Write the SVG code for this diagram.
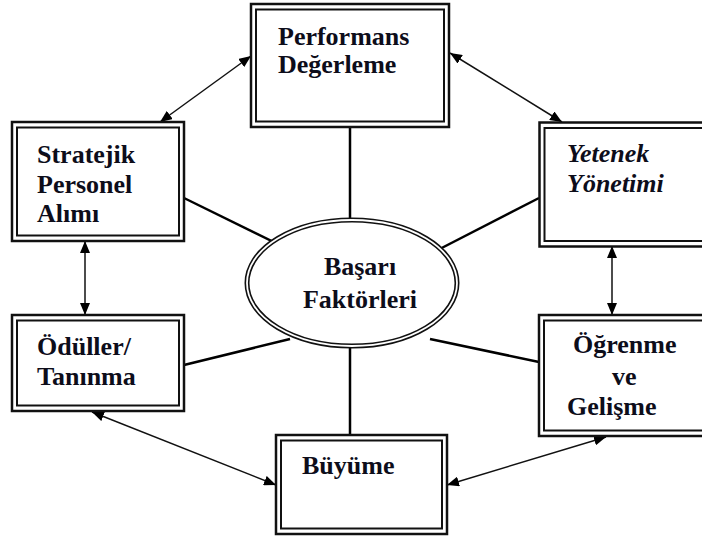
<svg xmlns="http://www.w3.org/2000/svg" width="702" height="539" viewBox="0 0 702 539">
<defs>
<marker id="ah" viewBox="0 0 12 10" refX="12" refY="5" markerWidth="12" markerHeight="10" markerUnits="userSpaceOnUse" orient="auto-start-reverse">
<path d="M0,0 L12,5 L0,10 z" fill="#000"/>
</marker>
</defs>
<style>
.outer{fill:#fff;stroke:#111;stroke-width:2.5}
.inner{fill:none;stroke:#111;stroke-width:2}
.t{font-family:"Liberation Serif","Times New Roman",serif;font-weight:bold;font-size:26px;fill:#0d0d1a}
.it{font-style:italic}
.conn{stroke:#000;stroke-width:2.5;fill:none}
.arr{stroke:#111;stroke-width:1.5;fill:none;marker-start:url(#ah);marker-end:url(#ah)}
</style>
<rect width="702" height="539" fill="#fff"/>
<g id="connectors">
<line class="conn" x1="184" y1="198" x2="290" y2="250"/>
<line class="conn" x1="539" y1="198" x2="430" y2="254"/>
<line class="conn" x1="184" y1="365" x2="290" y2="339"/>
<line class="conn" x1="539" y1="362" x2="430" y2="339"/>
<line class="conn" x1="350" y1="127" x2="350" y2="240"/>
<line class="conn" x1="350" y1="330" x2="350" y2="435"/>
<line class="arr" x1="160" y1="122" x2="251" y2="56"/>
<line class="arr" x1="450" y1="53" x2="562" y2="122"/>
<line class="arr" x1="85" y1="241" x2="85" y2="315"/>
<line class="arr" x1="612" y1="246" x2="612" y2="315"/>
<line class="arr" x1="92" y1="412" x2="276" y2="485"/>
<line class="arr" x1="447" y1="485" x2="606" y2="437"/>
</g>
<g id="center">
<ellipse cx="352" cy="283" rx="105" ry="63" fill="#fff" stroke="#111" stroke-width="5"/>
<ellipse cx="352" cy="283" rx="105" ry="63" fill="none" stroke="#fff" stroke-width="1.8"/>
<text class="t" x="360" y="275" text-anchor="middle">Başarı</text>
<text class="t" x="360" y="308" text-anchor="middle">Faktörleri</text>
</g>
<g id="performans">
<rect class="outer" x="251" y="4" width="198" height="123"/>
<rect class="inner" x="256" y="9.5" width="188" height="112"/>
<text class="t" x="278" y="45">Performans</text>
<text class="t" x="278" y="73">Değerleme</text>
</g>
<g id="stratejik">
<rect class="outer" x="12" y="122" width="172" height="119"/>
<rect class="inner" x="17" y="127.5" width="162" height="108"/>
<text class="t" x="37" y="163">Stratejik</text>
<text class="t" x="37" y="193">Personel</text>
<text class="t" x="37" y="222">Alımı</text>
</g>
<g id="yetenek">
<rect class="outer" x="539.5" y="122.5" width="180" height="124"/>
<rect class="inner" x="544.5" y="128" width="170" height="113"/>
<text class="t it" x="567" y="162">Yetenek</text>
<text class="t it" x="567" y="192">Yönetimi</text>
</g>
<g id="oduller">
<rect class="outer" x="12" y="315" width="172" height="96"/>
<rect class="inner" x="17" y="320.5" width="162" height="85"/>
<text class="t" x="37" y="355">Ödüller/</text>
<text class="t" x="37" y="385">Tanınma</text>
</g>
<g id="ogrenme">
<rect class="outer" x="539" y="315" width="180" height="121"/>
<rect class="inner" x="544" y="320.5" width="170" height="110"/>
<text class="t" x="573" y="353">Öğrenme</text>
<text class="t" x="612" y="385">ve</text>
<text class="t" x="567" y="415">Gelişme</text>
</g>
<g id="buyume">
<rect class="outer" x="276" y="435" width="171" height="99"/>
<rect class="inner" x="281" y="440.5" width="161" height="88"/>
<text class="t" x="302" y="474">Büyüme</text>
</g>
</svg>
